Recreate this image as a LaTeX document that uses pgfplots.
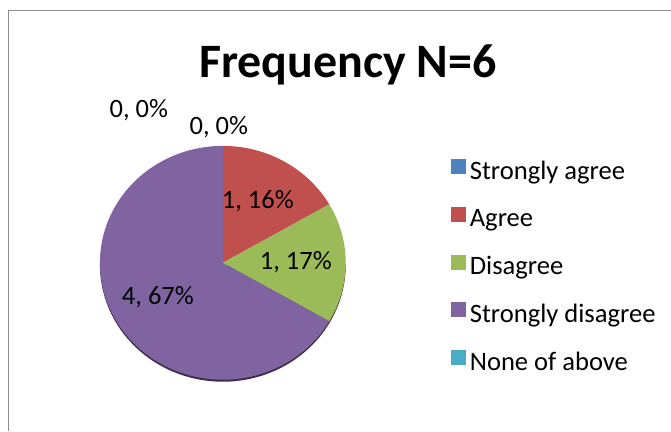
\documentclass[border=0pt]{standalone}
\usepackage{pgfplots}
\pgfplotsset{compat=1.18}
\usepackage{fontspec}
\setmainfont{Carlito}
\definecolor{cSA}{HTML}{4F81BD}
\definecolor{cA}{HTML}{C0504D}
\definecolor{cD}{HTML}{9BBB59}
\definecolor{cSD}{HTML}{8064A2}
\definecolor{cN}{HTML}{4BACC6}
\definecolor{cShadow}{HTML}{3B2E4C}
\definecolor{cBorder}{HTML}{8C8C8C}
\begin{document}
\begin{tikzpicture}
\begin{axis}[
  width=671pt, height=431pt, scale only axis,
  xmin=0, xmax=671, ymin=0, ymax=431, y dir=reverse,
  axis lines=none, clip=false,
  legend image code/.code={\fill[#1] (0pt,-1pt) rectangle (15pt,14pt);},
  legend cell align=left,
  legend style={at={(axis cs:448,157)}, anchor=north west, draw=none, fill=none,
    font=\fontsize{26.6}{31}\selectfont,
    nodes={inner sep=0pt, text height=18pt, text depth=6pt},
    row sep=21.8pt,
    /tikz/every odd column/.append style={column sep=4pt}},
]
% invisible frame for bounding box
\addplot[draw=none, forget plot] coordinates {(0,0) (671,431)};
% chart border (top and left)
\addplot[cBorder, line width=1pt, forget plot] coordinates {(8.5,431) (8.5,10.5) (671,10.5)};

% pie shadow
\addplot[fill=cShadow, draw=none, domain=180:360, samples=80, forget plot]
  ({223+123*cos(x)},{265-117*sin(x)}) -- cycle;
% counts: Strongly agree 0, Agree 1, Disagree 1, Strongly disagree 4, None 0 (N=6)
% Agree: 90 -> 30
\addplot[fill=cA, draw=none, domain=30:90, samples=40, forget plot]
  ({223+123*cos(x)},{263-117*sin(x)}) -- (223,263) -- cycle;
% Disagree: 30 -> -30
\addplot[fill=cD, draw=none, domain=-30:30, samples=40, forget plot]
  ({223+123*cos(x)},{263-117*sin(x)}) -- (223,263) -- cycle;
% Strongly disagree: -30 -> -270
\addplot[fill=cSD, draw=none, domain=90:330, samples=120, forget plot]
  ({223+123*cos(x)},{263-117*sin(x)}) -- (223,263) -- cycle;

\addlegendimage{fill=cSA, draw=none}
\addlegendentry{Strongly agree}
\addlegendimage{fill=cA, draw=none}
\addlegendentry{Agree}
\addlegendimage{fill=cD, draw=none}
\addlegendentry{Disagree}
\addlegendimage{fill=cSD, draw=none}
\addlegendentry{Strongly disagree}
\addlegendimage{fill=cN, draw=none}
\addlegendentry{None of above}

\node[font=\fontsize{48}{57}\selectfont\bfseries, anchor=base] at (axis cs:348,78) {Frequency N=6};
\node[font=\fontsize{26.5}{31}\selectfont] at (axis cs:139,110) {0, 0\%};
\node[font=\fontsize{26.5}{31}\selectfont] at (axis cs:219,127) {0, 0\%};
\node[font=\fontsize{26.5}{31}\selectfont] at (axis cs:258,201) {1, 16\%};
\node[font=\fontsize{26.5}{31}\selectfont] at (axis cs:296,262) {1, 17\%};
\node[font=\fontsize{26.5}{31}\selectfont] at (axis cs:158,297) {4, 67\%};
\end{axis}
\end{tikzpicture}
\end{document}
